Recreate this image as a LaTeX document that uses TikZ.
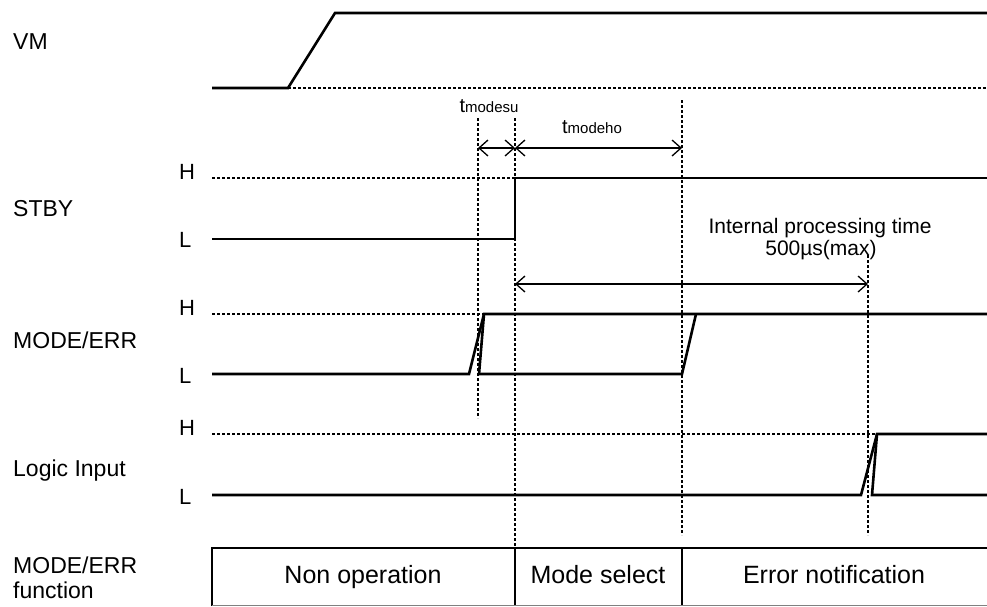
\documentclass[tikz,border=0pt]{standalone}
\usepackage{fontspec}
\setmainfont{Liberation Sans}
\usetikzlibrary{arrows.meta}
\begin{document}
\begin{tikzpicture}[x=1pt,y=-1pt,
  sig/.style={line width=2.6pt, line join=miter},
  guide/.style={line width=1.3pt, dash pattern=on 3pt off 2pt},
  dimline/.style={line width=1.3pt, {Straight Barb[length=9pt,width=16pt]}-{Straight Barb[length=9pt,width=16pt]}},
  lbl/.style={anchor=base west, inner sep=0pt, font=\fontsize{23}{27}\selectfont},
  hl/.style={anchor=base west, inner sep=0pt, font=\fontsize{22}{26}\selectfont},
  boxtxt/.style={anchor=base, inner sep=0pt, font=\fontsize{25}{30}\selectfont},
  note/.style={anchor=base, inner sep=0pt, font=\fontsize{21}{25}\selectfont}
]
\useasboundingbox (0,0) rectangle (987,606);
% signal names
\node[lbl] (vm) at (13,49) {VM};
\node[lbl] (stby) at (13,216) {STBY};
\node[lbl] (mode) at (13,348) {MODE/ERR};
\node[lbl] (logic) at (13,476) {Logic Input};
\node[lbl] (fn1) at (13,573) {MODE/ERR};
\node[lbl] (fn2) at (13,598) {function};
% H / L levels
\node[hl] (sh) at (179,179) {H};
\node[hl] (sl) at (179,247) {L};
\node[hl] (mh) at (179,315) {H};
\node[hl] (ml) at (179,383) {L};
\node[hl] (lh) at (179,435) {H};
\node[hl] (ll) at (179,504) {L};
% guides
\draw[guide] (288,88) -- (987,88);
\draw[guide] (212,178) -- (515,178);
\draw[guide] (212,314) -- (484,314);
\draw[guide] (212,434) -- (877,434);
\draw[guide] (478,118) -- (478,418);
\draw[guide] (515,118) -- (515,548);
\draw[guide] (682,100) -- (682,535);
\draw[guide] (868,255) -- (868,535);
% signals
\draw[sig] (212,88) -- (288,88) -- (335,13) -- (987,13);
\draw[sig] (212,239) -- (515,239) -- (515,178) -- (987,178);
\draw[sig] (212,374) -- (469,374) -- (484,314) -- (987,314);
\draw[sig] (484,314) -- (479,374) -- (682,374) -- (696,314);
\draw[sig] (212,495) -- (861,495) -- (877,434) -- (987,434);
\draw[sig] (877,434) -- (872,495) -- (987,495);
% timing dimensions
\coordinate (su1) at (478,148);
\coordinate (su2) at (515,148);
\coordinate (ho2) at (682,148);
\coordinate (ip1) at (515,284);
\coordinate (ip2) at (868,284);
\draw[dimline] (su1) -- (su2);
\draw[dimline] (su2) -- (ho2);
\draw[dimline] (ip1) -- (ip2);
\node[anchor=base, inner sep=0pt] (tsu) at (489,112) {\fontsize{20}{24}\selectfont t\fontsize{15}{18}\selectfont modesu};
\node[anchor=base, inner sep=0pt] (tho) at (592,133) {\fontsize{20}{24}\selectfont t\fontsize{15}{18}\selectfont modeho};
\node[note] (ipt1) at (820,233) {Internal processing time};
\node[note] (ipt2) at (821,255) {500µs(max)};
% function table
\draw[line width=2.6pt] (212,606) -- (212,548) -- (987,548);
\draw[line width=2.2pt] (515,548) -- (515,606);
\draw[line width=2.2pt] (682,548) -- (682,606);
\draw[line width=1pt, gray] (212,605) -- (987,605);
\node[boxtxt] (nonop) at (363,583) {Non operation};
\node[boxtxt] (modesel) at (598,583) {Mode select};
\node[boxtxt] (errn) at (834,583) {Error notification};
\end{tikzpicture}
\end{document}
